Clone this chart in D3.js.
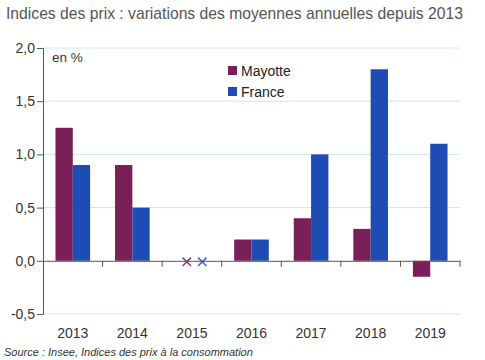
<!DOCTYPE html>
<html><head><meta charset="utf-8">
<script src="https://cdn.jsdelivr.net/npm/d3@7"></script>
<style>body{margin:0;background:#fff;} svg{display:block;font-family:"Liberation Sans",Arial,sans-serif;}</style>
</head><body>
<svg id="c" width="485" height="360"></svg>
<script>
const categories = ["2013","2014","2015","2016","2017","2018","2019"];
const seriesNames = ["Mayotte","France"];
const mayotte = [1.25, 0.9, 0, 0.2, 0.4, 0.3, -0.15];
const france  = [0.9, 0.5, 0, 0.2, 1.0, 1.8, 1.1];
const zeroMarks = ["2015"];
const yTicks = [-0.5, 0, 0.5, 1.0, 1.5, 2.0];
const colors = ["#7a1f57", "#1e4cb3"];

const svg = d3.select("#c");
const m = {l:43, r:460, t:48, b:314};
const x = d3.scaleBand().domain(categories).range([m.l, m.r]).paddingInner(0).paddingOuter(0);
const xs = d3.scaleBand().domain(seriesNames).range([0, x.bandwidth()]).paddingInner(0).paddingOuter(0.72);
const y = d3.scaleLinear().domain([-0.5, 2.0]).range([m.b, m.t]);
const fmt = v => d3.format(".1f")(v).replace(".", ",").replace("−","-");

svg.append("text").attr("x", 6).attr("y", 19).attr("font-size", 15.7).attr("fill", "#555")
  .text("Indices des prix : variations des moyennes annuelles depuis 2013");

// grid
svg.append("g").selectAll("line").data(yTicks.filter(d => d !== 0)).join("line")
  .attr("x1", m.l).attr("x2", m.r).attr("y1", d => y(d)).attr("y2", d => y(d))
  .attr("stroke", "#cde6f0").attr("stroke-width", 1);

// y axis
const ya = svg.append("g").attr("transform", `translate(${m.l},0)`)
  .call(d3.axisLeft(y).tickValues(yTicks).tickFormat(fmt).tickSize(6).tickPadding(2));
ya.select(".domain").attr("stroke", "#555");
ya.selectAll(".tick line").attr("stroke", "#555");
ya.selectAll("text").attr("font-size", 14).attr("fill", "#333").attr("font-family", "Liberation Sans, Arial, sans-serif");

// bars
const data = categories.map((c, i) => ({c, vals: [mayotte[i], france[i]]}));
const g = svg.append("g");
data.forEach(d => {
  if (zeroMarks.includes(d.c)) return;
  d.vals.forEach((v, j) => {
    g.append("rect")
      .attr("x", x(d.c) + xs(seriesNames[j]))
      .attr("width", xs.bandwidth())
      .attr("y", y(Math.max(0, v)))
      .attr("height", Math.abs(y(v) - y(0)))
      .attr("fill", colors[j]);
  });
});
// zero markers
data.filter(d => zeroMarks.includes(d.c)).forEach(d => {
  d.vals.forEach((v, j) => {
    const cx = x(d.c) + xs(seriesNames[j]) + xs.bandwidth()/2 + (j === 0 ? 3.5 : 1.7);
    const cy = y(v) + 1;
    const s = 4.2;
    g.append("path").attr("d", `M${cx-s},${cy-s}L${cx+s},${cy+s}M${cx-s},${cy+s}L${cx+s},${cy-s}`)
      .attr("stroke", colors[j]).attr("stroke-width", 1.6).attr("fill", "none").attr("opacity", 0.85);
  });
});

// x axis
const xa = svg.append("g").attr("transform", `translate(0,${y(0)})`)
  .call(d3.axisBottom(x).tickSize(0).tickFormat(""));
xa.select(".domain").attr("stroke", "#555");
svg.append("g").selectAll("line").data(categories.slice(1).concat(["end"])).join("line")
  .attr("x1", d => d === "end" ? m.r : x(d)).attr("x2", d => d === "end" ? m.r : x(d))
  .attr("y1", y(0)).attr("y2", y(0) + 6).attr("stroke", "#555");
svg.append("g").selectAll("text").data(categories).join("text")
  .attr("x", d => x(d) + x.bandwidth()/2).attr("y", 338).attr("text-anchor", "middle")
  .attr("font-size", 14).attr("fill", "#333").text(d => d);

svg.append("text").attr("x", 52).attr("y", 62).attr("font-size", 13.5).attr("fill", "#333").text("en %");

// legend
const lg = svg.append("g");
seriesNames.forEach((n, i) => {
  lg.append("rect").attr("x", 228).attr("y", 66 + i*21).attr("width", 9).attr("height", 9).attr("fill", colors[i]);
  lg.append("text").attr("x", 241).attr("y", 76 + i*21).attr("font-size", 14).attr("fill", "#222").text(n);
});

svg.append("text").attr("x", 4).attr("y", 356).attr("font-size", 11).attr("font-style", "italic").attr("fill", "#333")
  .text("Source : Insee, Indices des prix à la consommation");
</script>
</body></html>
